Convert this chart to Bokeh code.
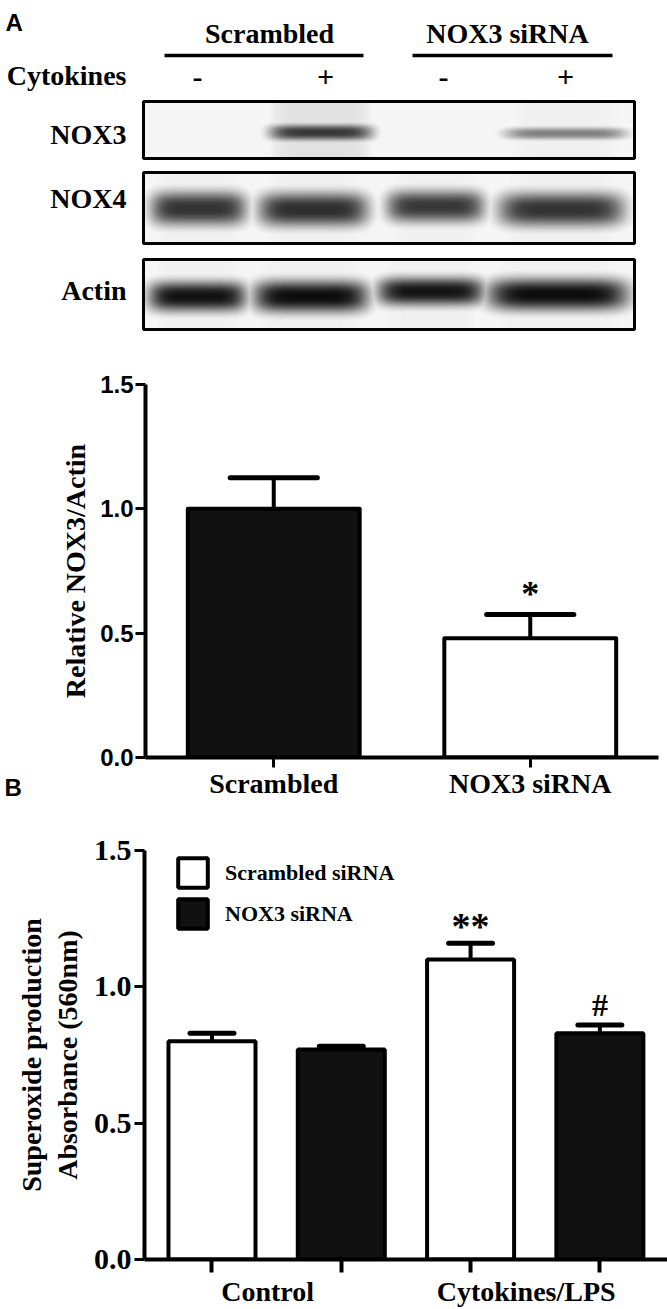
import numpy as np
from bokeh.plotting import figure
from bokeh.layouts import column
from bokeh.models import (Range1d, FixedTicker, Legend, LegendItem, Title,
                          PrintfTickFormatter, LinearColorMapper)
from bokeh.core.properties import value
from bokeh.embed import file_html
from bokeh.resources import INLINE
from bokeh.palettes import Greys256

SERIF = "Liberation Serif"
SANS = "Liberation Sans"

# ---------------- data ----------------
blot_groups = ["Scrambled", "NOX3 siRNA"]
cytokine_marks = ["-", "+", "-", "+"]
blot_rows = ["NOX3", "NOX4", "Actin"]
nox3_intensity = [0.02, 0.78, 0.02, 0.50]
nox4_intensity = [0.80, 0.82, 0.78, 0.80]
actin_intensity = [0.93, 0.95, 0.92, 0.95]

a_categories = ["Scrambled", "NOX3 siRNA"]
a_means = [1.0, 0.48]
a_errors = [0.125, 0.095]
a_marks = ["", "*"]

b_groups = ["Control", "Cytokines/LPS"]
b_series = ["Scrambled siRNA", "NOX3 siRNA"]
b_scrambled = [0.80, 1.10]
b_scrambled_err = [0.03, 0.06]
b_nox3 = [0.77, 0.83]
b_nox3_err = [0.012, 0.03]
b_marks_scrambled = ["", "**"]
b_marks_nox3 = ["", "#"]

W = 667

# ---------------- blot panel (illustration) ----------------
BLOT_H = 345
blot = figure(width=W, height=BLOT_H, x_range=Range1d(0, W), y_range=Range1d(0, BLOT_H),
              x_axis_location=None, y_axis_location=None, toolbar_location=None,
              output_backend="svg", min_border=0, outline_line_color=None, frame_align=False)
blot.grid.visible = False


def py(page_y):
    return BLOT_H - page_y


lane_label_x = [197, 325, 443, 565]
group_label_x = [269, 507]
panels = [
    dict(top=101, bottom=158, inten=nox3_intensity,
         xs=[(150, 246), (269, 372), (387, 485), (504, 626)],
         cy=[132, 132, 132, 133], hh=[8, 8, 8, 6], haze=[0.02, 0.12, 0.02, 0.06], mid=134),
    dict(top=172, bottom=243, inten=nox4_intensity,
         xs=[(150, 246), (258, 368), (386, 484), (498, 624)],
         cy=[208, 209, 206, 209], hh=[17, 17, 16, 17], haze=[0.06] * 4, mid=198),
    dict(top=259, bottom=329, inten=actin_intensity,
         xs=[(148, 246), (253, 368), (377, 484), (487, 628)],
         cy=[296, 296, 291, 294], hh=[15, 16, 14, 16], haze=[0.06] * 4, mid=290),
]
x0, x1 = 143, 634
cmap = LinearColorMapper(palette=list(reversed(Greys256)), low=0, high=1)
for pnl in panels:
    h = pnl["bottom"] - pnl["top"]
    w = x1 - x0
    X = x0 + np.arange(w) + 0.5
    Yp = pnl["bottom"] - np.arange(h) - 0.5
    arr = np.full((h, w), 0.04)
    for i, inten in enumerate(pnl["inten"]):
        a, b = pnl["xs"][i]
        cx, hw = (a + b) / 2, (b - a) / 2
        fx = np.exp(-np.abs((X - cx) / hw) ** 6)
        fy = np.exp(-np.abs((Yp - pnl["cy"][i]) / pnl["hh"][i]) ** 2.5)
        arr = np.maximum(arr, inten * np.outer(fy, fx))
        arr = np.maximum(arr, pnl["haze"][i] * np.outer(np.ones(h), fx))
    blot.image(image=[arr], x=x0, y=py(pnl["bottom"]), dw=w, dh=h, color_mapper=cmap)
    blot.quad(left=x0, right=x1, bottom=py(pnl["bottom"]), top=py(pnl["top"]),
              fill_color=None, line_color="black", line_width=3)

TXT = dict(text_font=value(SERIF), text_font_style="bold", text_font_size="28px",
           text_baseline="middle", text_color="black")
blot.text(x=[126] * 3, y=[py(p["mid"]) for p in panels], text=blot_rows, text_align="right", **TXT)
blot.text(x=group_label_x, y=[py(33)] * 2, text=blot_groups, text_align="center", **TXT)
blot.segment(x0=[164, 412], x1=[363, 612], y0=[py(55)] * 2, y1=[py(55)] * 2,
             line_width=3.5, line_color="black")
blot.text(x=[126], y=[py(75)], text=["Cytokines"], text_align="right", **TXT)
blot.text(x=lane_label_x, y=[py(77)] * 4, text=cytokine_marks, text_font=value(SERIF),
          text_font_style="bold", text_font_size="30px", text_align="center",
          text_baseline="middle", text_color="black")
blot.text(x=[5], y=[py(22)], text=["A"], text_font=value(SANS), text_font_style="bold",
          text_font_size="24px", text_align="left", text_baseline="middle", text_color="black")


def style_axes(p):
    p.xgrid.visible = False
    p.ygrid.visible = False
    for ax in p.axis:
        ax.axis_line_width = 4
        ax.axis_line_color = "black"
        ax.major_tick_line_width = 3
        ax.major_tick_line_color = "black"
        ax.major_tick_in = 0
        ax.major_tick_out = 10
        ax.minor_tick_line_color = None
        ax.major_label_text_color = "black"
        ax.axis_label_text_color = "black"
        ax.axis_label_text_font = SERIF
        ax.axis_label_text_font_style = "bold"
        ax.axis_label_text_font_size = "28px"


# ---------------- chart A ----------------
fa = figure(width=W, height=481, x_range=Range1d(0, 2), y_range=Range1d(0, 1.5),
            toolbar_location=None, output_backend="svg", outline_line_color=None,
            frame_align=False,
            min_border_left=145, min_border_right=9, min_border_top=39, min_border_bottom=69)
style_axes(fa)
a_x = [i + 0.5 for i in range(len(a_categories))]
a_tops = [m + e for m, e in zip(a_means, a_errors)]
fa.segment(x0=a_x, x1=a_x, y0=a_means, y1=a_tops, line_width=4, line_color="black", line_cap="round")
fa.segment(x0=[x - 0.17 for x in a_x], x1=[x + 0.17 for x in a_x], y0=a_tops, y1=a_tops,
           line_width=5, line_color="black", line_cap="round")
fa.vbar(x=a_x, top=a_means, width=0.67, fill_color=["#111111", "white"],
        line_color="black", line_width=4, line_join="round")
fa.text(x=a_x, y=a_tops, text=a_marks, text_font=value(SERIF), text_font_style="bold",
        text_font_size="36px", text_align="center", text_baseline="alphabetic",
        y_offset=-21, text_color="black")

ya = fa.yaxis[0]
ya.ticker = FixedTicker(ticks=[0, 0.5, 1.0, 1.5])
ya.formatter = PrintfTickFormatter(format="%.1f")
ya.major_label_text_font = SANS
ya.major_label_text_font_style = "bold"
ya.major_label_text_font_size = "24px"
ya.major_label_standoff = 2
ya.axis_label = "Relative NOX3/Actin"
ya.axis_label_standoff = 6

xa = fa.xaxis[0]
xa.ticker = FixedTicker(ticks=a_x)
xa.major_label_overrides = {x: c for x, c in zip(a_x, a_categories)}
xa.major_label_text_font = SERIF
xa.major_label_text_font_style = "bold"
xa.major_label_text_font_size = "28px"
xa.major_label_standoff = 0

fa.add_layout(Title(text="B", align="left", offset=-141, standoff=-56, vertical_align="top",
                    text_font=SANS, text_font_style="bold", text_font_size="24px",
                    text_color="black"), "below")

# ---------------- chart B ----------------
fb = figure(width=W, height=1309 - 345 - 481, x_range=Range1d(-0.022, 4.023), y_range=Range1d(0, 1.5),
            toolbar_location=None, output_backend="svg", outline_line_color=None,
            frame_align=False,
            min_border_left=144, min_border_right=0, min_border_top=24, min_border_bottom=50)
style_axes(fb)
n_series = len(b_series)
xs_scr = [n_series * i + 0.5 for i in range(len(b_groups))]
xs_nox = [n_series * i + 1.5 for i in range(len(b_groups))]
group_x = [n_series * i + n_series / 2 for i in range(len(b_groups))]
LABEL_SHIFT = -0.07

for xs, means, errs in [(xs_scr, b_scrambled, b_scrambled_err), (xs_nox, b_nox3, b_nox3_err)]:
    tops = [m + e for m, e in zip(means, errs)]
    fb.segment(x0=xs, x1=xs, y0=means, y1=tops, line_width=4, line_color="black", line_cap="round")
    fb.segment(x0=[x - 0.17 for x in xs], x1=[x + 0.17 for x in xs], y0=tops, y1=tops,
               line_width=5, line_color="black", line_cap="round")

r_scr = fb.vbar(x=xs_scr, top=b_scrambled, width=0.673, fill_color="white",
                line_color="black", line_width=4)
r_nox = fb.vbar(x=xs_nox, top=b_nox3, width=0.673, fill_color="#111111",
                line_color="black", line_width=4)

fb.text(x=xs_scr, y=[m + e for m, e in zip(b_scrambled, b_scrambled_err)], text=b_marks_scrambled,
        text_font=value(SERIF), text_font_style="bold", text_font_size="38px",
        text_align="center", text_baseline="alphabetic", y_offset=-17, text_color="black")
fb.text(x=xs_nox, y=[m + e for m, e in zip(b_nox3, b_nox3_err)], text=b_marks_nox3,
        text_font=value(SERIF), text_font_style="bold", text_font_size="32px",
        text_align="center", text_baseline="alphabetic", y_offset=-20, text_color="black")

legend = Legend(items=[LegendItem(label=b_series[0], renderers=[r_scr]),
                       LegendItem(label=b_series[1], renderers=[r_nox])],
                location=(30, 327), glyph_width=37, glyph_height=37, spacing=4,
                padding=0, margin=0, label_standoff=14, border_line_color=None,
                background_fill_alpha=0, label_text_font=SERIF, label_text_font_style="bold",
                label_text_font_size="22px", label_text_color="black")
fb.add_layout(legend)

yb = fb.yaxis[0]
yb.ticker = FixedTicker(ticks=[0, 0.5, 1.0, 1.5])
yb.formatter = PrintfTickFormatter(format="%.1f")
yb.major_label_text_font = SERIF
yb.major_label_text_font_style = "bold"
yb.major_label_text_font_size = "30px"
yb.major_label_standoff = 3
yb.axis_label = "Superoxide production\nAbsorbance (560nm)"
yb.axis_label_standoff = 8
yb.axis_label_text_line_height = 1.15

xb = fb.xaxis[0]
label_x = [g + LABEL_SHIFT for g in group_x]
xb.ticker = FixedTicker(ticks=label_x, minor_ticks=xs_scr + xs_nox)
xb.major_label_overrides = {x: g for x, g in zip(label_x, b_groups)}
xb.major_tick_out = 0
xb.major_tick_line_color = None
xb.minor_tick_line_color = "black"
xb.minor_tick_line_width = 4
xb.minor_tick_out = 13
xb.minor_tick_in = 0
xb.major_label_text_font = SERIF
xb.major_label_text_font_style = "bold"
xb.major_label_text_font_size = "28px"
xb.major_label_standoff = 3

layout = column(blot, fa, fb, spacing=0)
open("out.html", "w").write(file_html(layout, INLINE))
